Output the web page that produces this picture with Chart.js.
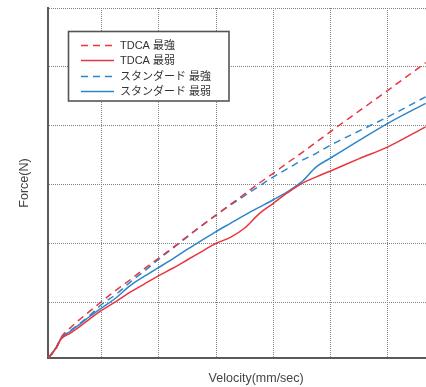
<!DOCTYPE html>
<html>
<head>
<meta charset="utf-8">
<script src="https://cdn.jsdelivr.net/npm/chart.js@4.4.1/dist/chart.umd.min.js"></script>
<style>
  html, body { margin: 0; padding: 0; background: #fff; overflow: hidden; }
  #wrap { width: 464px; height: 387px; }
</style>
</head>
<body>
<div id="wrap"><canvas id="chart" width="464" height="387"></canvas></div>
<script>
// x in grid units (one dotted cell = 1), no tick labels in the original
const VELOCITY = [0.07, 0.2, 0.3, 0.45, 0.6, 0.8, 1.0, 1.25, 1.5, 1.75, 2, 2.25, 2.5, 2.75,
                  3, 3.25, 3.5, 3.75, 4, 4.25, 4.5, 4.75, 5, 5.5, 6, 6.66];

const TDCA_MAX = [0.05, 0.21, 0.41, 0.56, 0.69, 0.85, 1.01, 1.20, 1.38, 1.57, 1.75, 1.93, 2.12, 2.30,
                  2.48, 2.66, 2.84, 3.02, 3.19, 3.37, 3.54, 3.72, 3.90, 4.25, 4.60, 5.07];
const TDCA_MIN = [0.05, 0.21, 0.38, 0.47, 0.57, 0.72, 0.86, 1.01, 1.17, 1.31, 1.45, 1.58, 1.72, 1.86,
                  2.00, 2.10, 2.26, 2.50, 2.68, 2.86, 3.02, 3.13, 3.23, 3.44, 3.64, 3.98];
const STD_MAX  = [0.05, 0.20, 0.39, 0.51, 0.62, 0.78, 0.96, 1.13, 1.34, 1.53, 1.73, 1.92, 2.11, 2.30,
                  2.48, 2.65, 2.81, 2.97, 3.13, 3.27, 3.41, 3.53, 3.67, 3.91, 4.15, 4.49];
const STD_MIN  = [0.05, 0.22, 0.40, 0.50, 0.61, 0.76, 0.90, 1.07, 1.28, 1.44, 1.59, 1.74, 1.90, 2.05,
                  2.20, 2.34, 2.48, 2.61, 2.74, 2.88, 3.05, 3.30, 3.45, 3.75, 4.04, 4.38];

const SERIES_LABELS = ['TDCA 最強', 'TDCA 最弱', 'スタンダード 最強', 'スタンダード 最弱'];
const X_GRID = [1, 2, 3, 4, 5, 6, 7];
const Y_GRID = [1, 2, 3, 4, 5, 6];

const RED = '#e8353e';
const BLUE = '#2c86cc';
const FONT = '"Liberation Sans", "Noto Sans CJK JP", sans-serif';

const toPoints = (ys) => ys.map((y, i) => ({ x: VELOCITY[i], y }));

const lineSet = (label, data, color, dashed) => ({
  label,
  data: toPoints(data),
  borderColor: color,
  backgroundColor: color,
  borderWidth: 1.5,
  borderDash: dashed ? [7, 5] : [],
  pointRadius: 0,
  cubicInterpolationMode: 'monotone',
  fill: false,
});

// boxed legend inside the plot, upper left
const boxLegend = {
  id: 'boxLegend',
  afterDraw(chart) {
    const ctx = chart.ctx;
    ctx.save();
    ctx.fillStyle = '#fff';
    ctx.fillRect(68.5, 31.5, 160.5, 69.5);
    ctx.strokeStyle = '#555';
    ctx.lineWidth = 1.6;
    ctx.strokeRect(68.5, 31.5, 160.5, 69.5);
    ctx.font = '11px ' + FONT;
    ctx.textBaseline = 'middle';
    chart.data.datasets.forEach((ds, i) => {
      const y = Math.round(45 + i * 15.3) + 0.5;
      ctx.strokeStyle = ds.borderColor;
      ctx.lineWidth = 1.4;
      ctx.setLineDash(ds.borderDash);
      ctx.beginPath();
      ctx.moveTo(81, y);
      ctx.lineTo(114, y);
      ctx.stroke();
      ctx.setLineDash([]);
      ctx.fillStyle = '#333';
      ctx.fillText(ds.label, 120, y + 0.5);
    });
    ctx.restore();
  },
};

const gridOpts = { color: '#808080', lineWidth: 1, drawTicks: false };
const borderOpts = { color: '#5a5a5a', width: 2, dash: [1, 1] };

new Chart(document.getElementById('chart'), {
  type: 'line',
  data: {
    datasets: [
      lineSet(SERIES_LABELS[0], TDCA_MAX, RED, true),
      lineSet(SERIES_LABELS[1], TDCA_MIN, RED, false),
      lineSet(SERIES_LABELS[2], STD_MAX, BLUE, true),
      lineSet(SERIES_LABELS[3], STD_MIN, BLUE, false),
    ],
  },
  options: {
    responsive: false,
    animation: false,
    layout: { padding: { top: 8, left: 0, right: 0, bottom: 0 } },
    plugins: { legend: { display: false }, tooltip: { enabled: false } },
    scales: {
      x: {
        type: 'linear',
        min: 0.07,
        max: 7.33,
        afterBuildTicks: (s) => { s.ticks = X_GRID.map((v) => ({ value: v })); },
        ticks: { display: false },
        grid: gridOpts,
        border: borderOpts,
        title: {
          display: true,
          text: 'Velocity(mm/sec)',
          color: '#444',
          font: { family: FONT, size: 12.5 },
          padding: { top: 13.5, bottom: 0.5 },
        },
      },
      y: {
        type: 'linear',
        min: 0.05,
        max: 6,
        afterBuildTicks: (s) => { s.ticks = Y_GRID.map((v) => ({ value: v })); },
        ticks: { display: false },
        grid: gridOpts,
        border: borderOpts,
        title: {
          display: true,
          text: 'Force(N)',
          color: '#444',
          font: { family: FONT, size: 12.5 },
          padding: { top: 17.5, bottom: 15.8 },
        },
      },
    },
  },
  plugins: [boxLegend],
});
</script>
</body>
</html>
